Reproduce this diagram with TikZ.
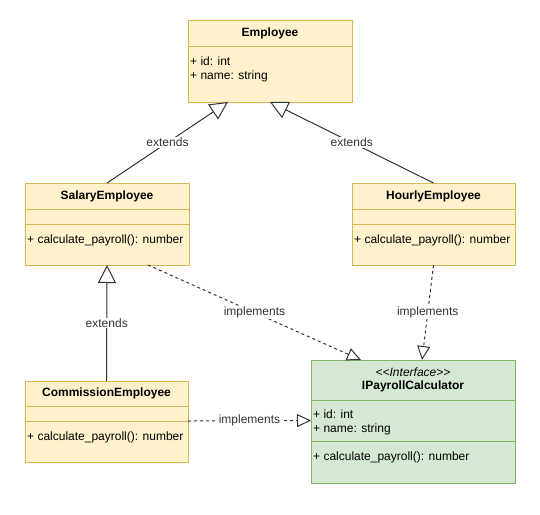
\documentclass[tikz,border=0pt]{standalone}
\usepackage{fontspec}
\setmainfont{Liberation Sans}
\usepackage{xcolor}
\usetikzlibrary{arrows.meta, positioning}

\definecolor{classyellow}{HTML}{FFF2CC}
\definecolor{classyellowline}{HTML}{D6B656}
\definecolor{classgreen}{HTML}{D5E8D4}
\definecolor{classgreenline}{HTML}{82B366}

\newcommand{\umlfont}{\fontsize{12}{14}\selectfont}

\tikzset{
	classhead/.style={draw=classyellowline, fill=classyellow, line width=1pt, outer sep=0pt, inner sep=0pt, align=center},
	classpart/.style={draw=classyellowline, fill=classyellow, line width=1pt, outer sep=0pt, inner sep=0pt},
	iface/.style={draw=classgreenline, fill=classgreen},
	members/.style={anchor=north west, inner sep=0pt, align=left},
	extends/.style={draw=black!80, line width=1pt, -{Triangle[open, length=18pt, width=18pt]}},
	implements/.style={extends, dash pattern=on 3pt off 3pt, -{Triangle[open, length=14pt, width=13pt]}},
	edgelabel/.style={fill=white, inner sep=1pt, text=black!80, midway}
}

\begin{document}
\begin{tikzpicture}[x=1pt, y=-1pt, font=\umlfont]
	\useasboundingbox (0,0) rectangle (540,514);
	
	% Employee
	\node[classhead, minimum width=164, minimum height=26] (emp) at (270,33) {\textbf{Employee}};
	\node[classpart, minimum width=164, minimum height=56, below=0pt of emp] (empattr) {};
	\node[members] (empattrtxt) at ([shift={(2,11)}]empattr.north west) {+ id: int\\+ name: string};
	
	% SalaryEmployee
	\node[classhead, minimum width=164, minimum height=26] (sal) at (107,196) {\textbf{SalaryEmployee}};
	\node[classpart, minimum width=164, minimum height=15, below=0pt of sal] (salattr) {};
	\node[classpart, minimum width=164, minimum height=41, below=0pt of salattr] (salmeth) {};
	\node[members] (salmethtxt) at ([shift={(2,11)}]salmeth.north west) {+ calculate\_payroll(): number};
	
	% HourlyEmployee
	\node[classhead, minimum width=163, minimum height=26] (hour) at (433.5,196) {\textbf{HourlyEmployee}};
	\node[classpart, minimum width=163, minimum height=15, below=0pt of hour] (hourattr) {};
	\node[classpart, minimum width=163, minimum height=41, below=0pt of hourattr] (hourmeth) {};
	\node[members] (hourmethtxt) at ([shift={(2,11)}]hourmeth.north west) {+ calculate\_payroll(): number};
	
	% CommissionEmployee
	\node[classhead, minimum width=163, minimum height=25] (comm) at (106.5,393.5) {\textbf{CommissionEmployee}};
	\node[classpart, minimum width=163, minimum height=15, below=0pt of comm] (commattr) {};
	\node[classpart, minimum width=163, minimum height=41, below=0pt of commattr] (commmeth) {};
	\node[members] (commmethtxt) at ([shift={(2,11)}]commmeth.north west) {+ calculate\_payroll(): number};
	
	% IPayrollCalculator
	\node[classhead, iface, minimum width=204, minimum height=40] (ipay) at (413,380) {{\itshape <\kern0pt<Interface>\kern0pt>}\\[-1pt]\textbf{IPayrollCalculator}};
	\node[classpart, iface, minimum width=204, minimum height=41, below=0pt of ipay] (ipayattr) {};
	\node[classpart, iface, minimum width=204, minimum height=42, below=0pt of ipayattr] (ipaymeth) {};
	\node[members] (ipayattrtxt) at ([shift={(2,10)}]ipayattr.north west) {+ id: int\\+ name: string};
	\node[members] (ipaymethtxt) at ([shift={(2,11)}]ipaymeth.north west) {+ calculate\_payroll(): number};
	
	% connectors
	\draw[extends] (sal.north) -- node[edgelabel] (salext) {extends} ([xshift=-42pt]empattr.south);
	\draw[extends] (hour.north) -- node[edgelabel] (hourext) {extends} (empattr.south);
	\draw[extends] (comm.north) -- node[edgelabel] (commext) {extends} (salmeth.south);
	\draw[implements] ([xshift=41pt]salmeth.south) -- node[edgelabel] (salimpl) {implements} ([xshift=-52pt]ipay.north);
	\draw[implements] (hourmeth.south) -- node[edgelabel] (hourimpl) {implements} ([xshift=9pt]ipay.north);
	\draw[implements] (commmeth.north east) -- node[edgelabel] (commimpl) {implements} (ipayattr.west);
\end{tikzpicture}
\end{document}
